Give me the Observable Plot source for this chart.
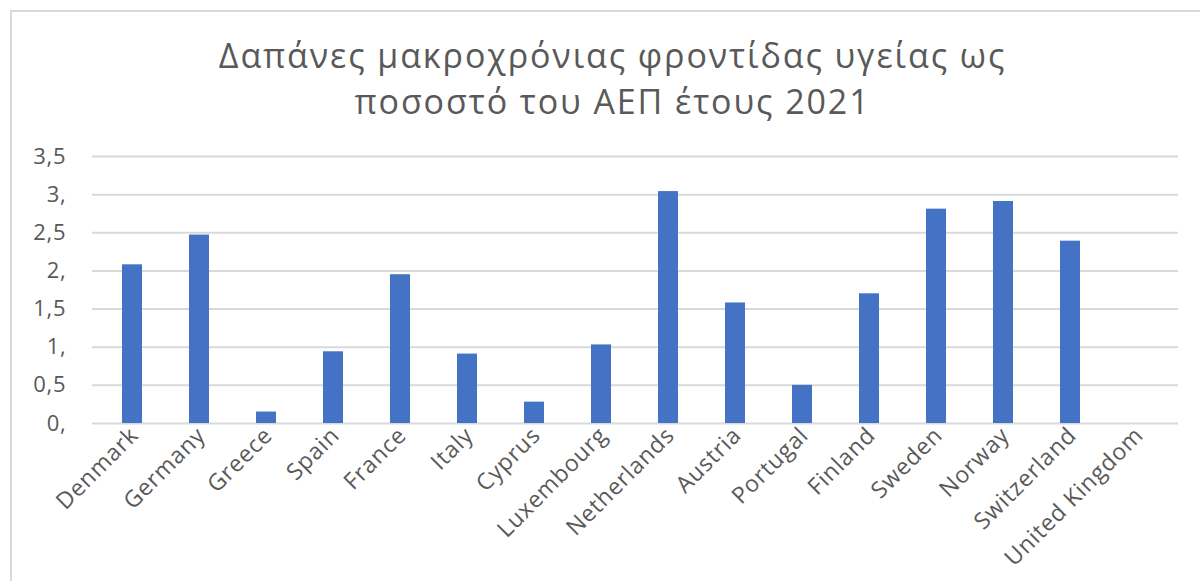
<!DOCTYPE html>
<html>
<head>
<meta charset="utf-8">
<script src="https://cdn.jsdelivr.net/npm/d3@7"></script>
<script src="https://cdn.jsdelivr.net/npm/@observablehq/plot@0.6"></script>
<style>
  html, body { margin: 0; padding: 0; background: #fff; }
  #wrap { position: relative; width: 1200px; height: 581px; overflow: hidden; }
  #frame { position: absolute; left: 10px; top: 10px; right: -5px; bottom: -5px;
           border-left: 2px solid #d9d9d9; border-top: 2px solid #d9d9d9; pointer-events: none; }
  #chart { position: absolute; left: 0; top: 0; }
  #chart svg text { letter-spacing: 0.8px; }
</style>
</head>
<body>
<div id="wrap"><div id="chart"></div><div id="frame"></div></div>
<script>
const titleLines = ["Δαπάνες μακροχρόνιας φροντίδας υγείας ως", "ποσοστό του ΑΕΠ έτους 2021"];
const countries = ["Denmark","Germany","Greece","Spain","France","Italy","Cyprus","Luxembourg","Netherlands","Austria","Portugal","Finland","Sweden","Norway","Switzerland","United Kingdom"];
const values = [2.08, 2.47, 0.15, 0.94, 1.95, 0.91, 0.28, 1.03, 3.04, 1.58, 0.50, 1.70, 2.81, 2.91, 2.39, null];
const yTicks = [0, 0.5, 1, 1.5, 2, 2.5, 3, 3.5];
const yTickLabels = ["0,", "0,5", "1,", "1,5", "2,", "2,5", "3,", "3,5"];

const data = countries.map((c, i) => ({country: c, value: values[i]}));
const titleData = titleLines.map((t, i) => ({t, i}));
const font = "'Open Sans', sans-serif";
const textColor = "#595959";

const chart = Plot.plot({
  width: 1200,
  height: 581,
  marginLeft: 92,
  marginRight: 22,
  marginTop: 156,
  marginBottom: 158,
  style: {fontFamily: font, fontSize: "22px", color: textColor, background: "transparent"},
  x: {domain: countries, paddingInner: 0.695, paddingOuter: 0.3475, label: null},
  y: {domain: [0, 3.5], label: null},
  marks: [
    Plot.ruleY(yTicks, {stroke: "#d9d9d9", strokeWidth: 2}),
    Plot.barY(data.filter(d => d.value != null), {x: "country", y: "value", fill: "#4472C4"}),
    Plot.axisY({ticks: yTicks, tickFormat: d => yTickLabels[yTicks.indexOf(d)], tickSize: 0, tickPadding: 26, label: null, fill: textColor, fontSize: 22}),
    Plot.axisX({tickSize: 0, tickRotate: -45, tickPadding: 8, dx: 2, label: null, fill: textColor, fontSize: 23}),
    Plot.text(titleData, {
      text: "t",
      frameAnchor: "top",
      fontSize: 34,
      fill: textColor,
      fontFamily: font,
      textAnchor: "middle"
    })
  ]
});
document.getElementById("chart").appendChild(chart);

// place the two title lines above the plot frame
d3.select(chart).selectAll("text").filter(function() { return titleLines.includes(this.textContent); })
  .each(function() {
    const i = titleLines.indexOf(this.textContent);
    d3.select(this)
      .attr("transform", `translate(612,${67 + i * 46})`)
      .attr("x", null).attr("y", null).attr("dy", null)
      .style("letter-spacing", "1.9px");
  });
</script>
</body>
</html>
